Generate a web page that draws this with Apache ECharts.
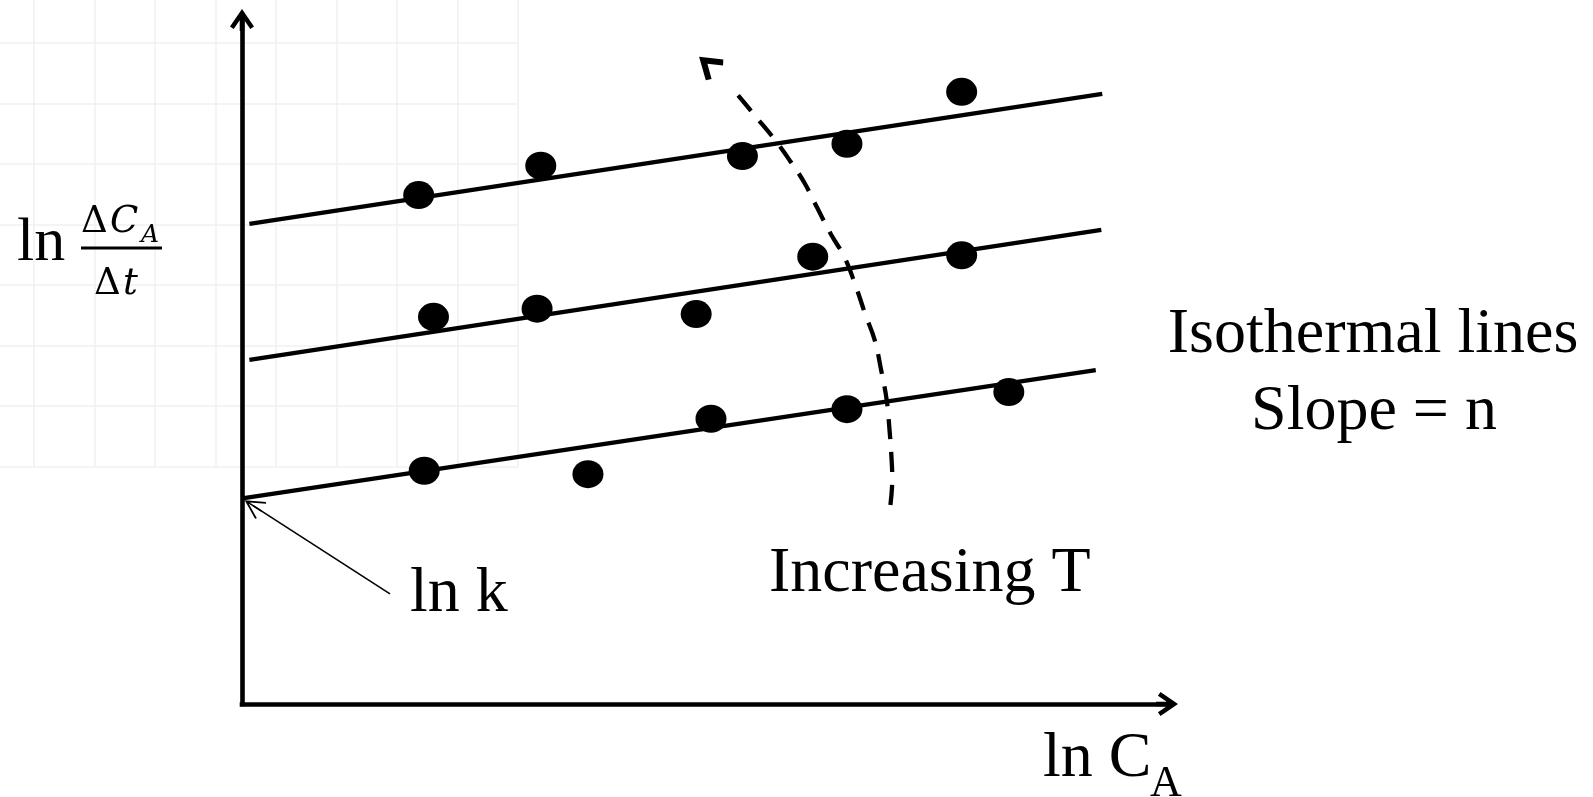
<!DOCTYPE html>
<html>
<head>
<meta charset="utf-8">
<script src="https://cdn.jsdelivr.net/npm/echarts@6/dist/echarts.min.js"></script>
<style>
  html, body { margin: 0; padding: 0; background: #ffffff; }
  #chart { width: 1593px; height: 797px; }
</style>
</head>
<body>
<div id="chart"></div>
<script>
// ---- data (axis units: ln C_A on x, ln(ΔC_A/Δt) on y, both 0..10) ----
const axisRangeX = [0, 10];
const axisRangeY = [0, 10];

// three isothermal fitted lines (start, end)
const isoLineLow  = [[0.02, 3.01], [9.23, 4.88]];
const isoLineMid  = [[0.08, 5.03], [9.29, 6.93]];
const isoLineHigh = [[0.08, 7.02], [9.30, 8.92]];

// measured points for each temperature
const pointsLow  = [[1.97, 3.41], [3.74, 3.36], [5.07, 4.17], [6.54, 4.31], [8.29, 4.56]];
const pointsMid  = [[2.07, 5.66], [3.19, 5.78], [4.91, 5.70], [6.17, 6.54], [7.78, 6.56]];
const pointsHigh = [[1.91, 7.44], [3.23, 7.87], [5.41, 8.01], [6.54, 8.19], [7.78, 8.95]];

// dashed "Increasing T" guide curve (bottom to top) and its arrow head
const tempCurve = [
  [7.01, 2.91], [7.03, 3.28], [7.02, 3.64], [7.00, 4.01], [6.97, 4.44],
  [6.91, 4.88], [6.84, 5.32], [6.74, 5.69], [6.63, 6.13], [6.51, 6.54],
  [6.37, 6.86], [6.22, 7.25], [6.08, 7.62], [5.92, 7.95], [5.76, 8.25],
  [5.54, 8.61], [5.29, 9.02]
];
const tempArrowHead = [[5.04, 9.35]];

// pointer from "ln k" label to the intercept of the lowest line
const lnkPointer = [[1.60, 1.61], [0.12, 2.90]];

// labels
const labelIso = 'Isothermal lines';
const labelSlope = 'Slope = n';
const labelIncT = 'Increasing T';
const labelLnk = 'ln k';

// ---- styling helpers ----
const serif = '"Liberation Serif", "Times New Roman", serif';
const mathSerif = '"DejaVu Serif", "Liberation Serif", serif';
const axisArrow = 'path://M12,0 L24,17.5 L20.3,20.05 L14.3,11.3 L14.3,22 L9.7,22 L9.7,11.3 L3.7,20.05 L0,17.5 Z';
const openArrow = 'path://M13,0 L26,19.5 L21.5,23 L13,10.5 L4.5,23 L0,19.5 Z';
const thinArrow = 'path://M10.5,0 L21,18.8 L19.5,20 L11.3,5.3 L11.3,20 L9.7,20 L9.7,5.3 L1.5,20 L0,18.8 Z';

const chart = echarts.init(document.getElementById('chart'), null, { renderer: 'canvas' });

const bgLine = { show: true, lineStyle: { color: '#eef0f4', width: 1.5 } };
const dotStyle = { color: '#000', opacity: 1 };

const option = {
  backgroundColor: '#ffffff',
  animation: false,
  grid: [
    { left: 242, right: 426, top: 20, bottom: 93, outerBoundsMode: 'none', containLabel: false },
    { left: -26.5, top: -17.5, width: 544.5, height: 484, outerBoundsMode: 'none', containLabel: false, z: -10 }
  ],
  xAxis: [
    {
      type: 'value', gridIndex: 0, min: axisRangeX[0], max: axisRangeX[1],
      axisLine: { show: true, onZero: false, symbol: ['none', axisArrow], symbolSize: [24, 22],
        lineStyle: { color: '#000', width: 4.6, cap: 'square' } },
      axisTick: { show: false }, axisLabel: { show: false }, splitLine: { show: false }
    },
    {
      type: 'value', gridIndex: 1, min: 0, max: 9, interval: 1, z: -10,
      axisLine: { show: false }, axisTick: { show: false }, axisLabel: { show: false },
      splitLine: bgLine
    }
  ],
  yAxis: [
    {
      type: 'value', gridIndex: 0, min: axisRangeY[0], max: axisRangeY[1],
      axisLine: { show: true, onZero: false, symbol: ['none', axisArrow], symbolSize: [24, 22],
        lineStyle: { color: '#000', width: 4.6, cap: 'square' } },
      axisTick: { show: false }, axisLabel: { show: false }, splitLine: { show: false }
    },
    {
      type: 'value', gridIndex: 1, min: 0, max: 8, interval: 1, z: -10,
      axisLine: { show: false }, axisTick: { show: false }, axisLabel: { show: false },
      splitLine: bgLine
    }
  ],
  series: [
    { type: 'line', data: isoLineLow, symbol: 'none', silent: true, z: 3,
      lineStyle: { color: '#000', width: 4.3 } ,
      markLine: {
        silent: true, animation: false,
        symbol: ['none', thinArrow], symbolSize: 20,
        label: { show: false },
        lineStyle: { color: '#000', width: 1.6, type: 'solid', opacity: 1 },
        emphasis: { disabled: true },
        data: [[{ coord: lnkPointer[0] }, { coord: lnkPointer[1] }]]
      }
    },
    { type: 'line', data: isoLineMid, symbol: 'none', silent: true, z: 3,
      lineStyle: { color: '#000', width: 4.3 } },
    { type: 'line', data: isoLineHigh, symbol: 'none', silent: true, z: 3,
      lineStyle: { color: '#000', width: 4.3 } },
    { type: 'scatter', data: pointsLow, symbol: 'circle', symbolSize: [31, 28], z: 4, silent: true,
      itemStyle: dotStyle },
    { type: 'scatter', data: pointsMid, symbol: 'circle', symbolSize: [31, 28], z: 4, silent: true,
      itemStyle: dotStyle },
    { type: 'scatter', data: pointsHigh, symbol: 'circle', symbolSize: [31, 28], z: 4, silent: true,
      itemStyle: dotStyle },
    { type: 'line', data: tempCurve, symbol: 'none', smooth: 0.4, silent: true, z: 3,
      lineStyle: { color: '#000', width: 4.3, type: [20, 13] } },
    { type: 'scatter', data: tempArrowHead, symbol: openArrow, symbolSize: [27, 24], symbolRotate: 49.5,
      z: 4, silent: true, itemStyle: dotStyle }
  ],
  graphic: [
    // y-axis title: ln (ΔC_A / Δt)
    { type: 'text', x: 17, y: 244, style: { text: 'ln', font: '62px ' + serif, fill: '#000', align: 'left', verticalAlign: 'middle' } },
    { type: 'text', x: 81, y: 222, style: { text: 'Δ', font: '37px ' + mathSerif, fill: '#000', align: 'left', verticalAlign: 'middle' } },
    { type: 'text', x: 110, y: 222, style: { text: 'C', font: 'italic 37px ' + mathSerif, fill: '#000', align: 'left', verticalAlign: 'middle' } },
    { type: 'text', x: 141, y: 235, style: { text: 'A', font: 'italic 25px ' + mathSerif, fill: '#000', align: 'left', verticalAlign: 'middle' } },
    { type: 'rect', shape: { x: 81, y: 246.5, width: 81, height: 3 }, style: { fill: '#000' } },
    { type: 'text', x: 94, y: 284, style: { text: 'Δ', font: '37px ' + mathSerif, fill: '#000', align: 'left', verticalAlign: 'middle' } },
    { type: 'text', x: 123, y: 284, style: { text: 't', font: 'italic 37px ' + mathSerif, fill: '#000', align: 'left', verticalAlign: 'middle' } },
    // x-axis title: ln C_A
    { type: 'text', x: 1043, y: 759, style: { text: 'ln C', font: '64px ' + serif, fill: '#000', align: 'left', verticalAlign: 'middle' } },
    { type: 'text', x: 1150, y: 784, style: { text: 'A', font: '44px ' + serif, fill: '#000', align: 'left', verticalAlign: 'middle' } },
    // annotations
    { type: 'text', x: 1373, y: 335, style: { text: labelIso, font: '64px ' + serif, fill: '#000', align: 'center', verticalAlign: 'middle' } },
    { type: 'text', x: 1374, y: 412, style: { text: labelSlope, font: '64px ' + serif, fill: '#000', align: 'center', verticalAlign: 'middle' } },
    { type: 'text', x: 769, y: 574, style: { text: labelIncT, font: '64px ' + serif, fill: '#000', align: 'left', verticalAlign: 'middle' } },
    { type: 'text', x: 410, y: 594, style: { text: labelLnk, font: '64px ' + serif, fill: '#000', align: 'left', verticalAlign: 'middle' } }
  ]
};

chart.setOption(option);
</script>
</body>
</html>
